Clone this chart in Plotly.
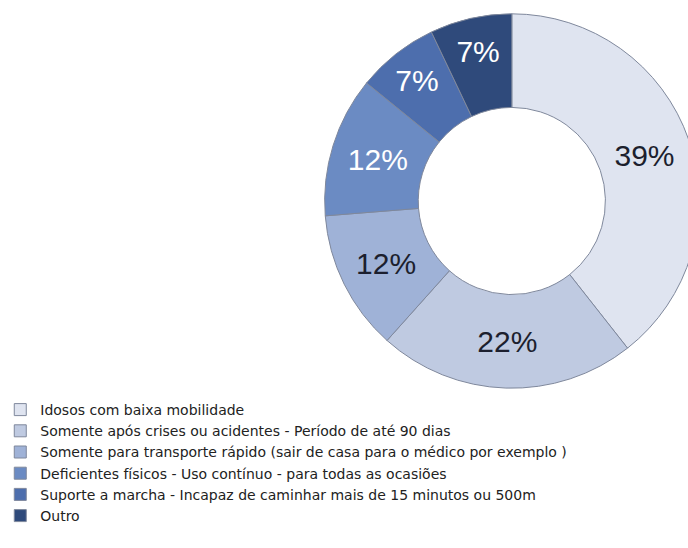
import plotly.graph_objects as go

# Perfil de uso: categorias, percentuais e cores das fatias
categorias = [
    "Idosos com baixa mobilidade",
    "Somente após crises ou acidentes - Período de até 90 dias",
    "Somente para transporte rápido (sair de casa para o médico por exemplo )",
    "Deficientes físicos - Uso contínuo - para todas as ocasiões",
    "Suporte a marcha - Incapaz de caminhar mais de 15 minutos ou 500m",
    "Outro",
]
percentuais = [39, 22, 12, 12, 7, 7]
cores = ["#dfe4f0", "#bfcae1", "#9fb2d7", "#6b8bc3", "#4d6ead", "#2f4a7b"]
cores_texto = ["#1c1f2e", "#1c1f2e", "#1c1f2e", "#ffffff", "#ffffff", "#ffffff"]

W, H = 700, 548
cx, cy, R = 508, 201, 191

fig = go.Figure(
    go.Pie(
        labels=categorias,
        values=percentuais,
        sort=False,
        direction="clockwise",
        rotation=0,
        hole=0.5,
        marker=dict(colors=cores, line=dict(color="#7f889c", width=1)),
        texttemplate="%{value}%",
        textposition="inside",
        insidetextorientation="horizontal",
        textfont=dict(family="Arial", size=30, color=cores_texto),
        domain=dict(
            x=[(cx - R) / W, (cx + R) / W],
            y=[1 - (cy + R) / H, 1 - (cy - R) / H],
        ),
    )
)

fig.update_layout(
    width=W,
    height=H,
    margin=dict(l=0, r=0, t=0, b=0),
    paper_bgcolor="white",
    plot_bgcolor="white",
    showlegend=True,
    legend=dict(
        x=-0.02,
        y=1 - 394 / H,
        xanchor="left",
        yanchor="top",
        font=dict(family="DejaVu Sans", size=14, color="#222222"),
        bgcolor="rgba(0,0,0,0)",
        tracegroupgap=0,
    ),
)

fig.write_html(
    "out.html",
    post_script="document.body.style.overflow='hidden';"
    "document.documentElement.style.overflow='hidden';",
)
